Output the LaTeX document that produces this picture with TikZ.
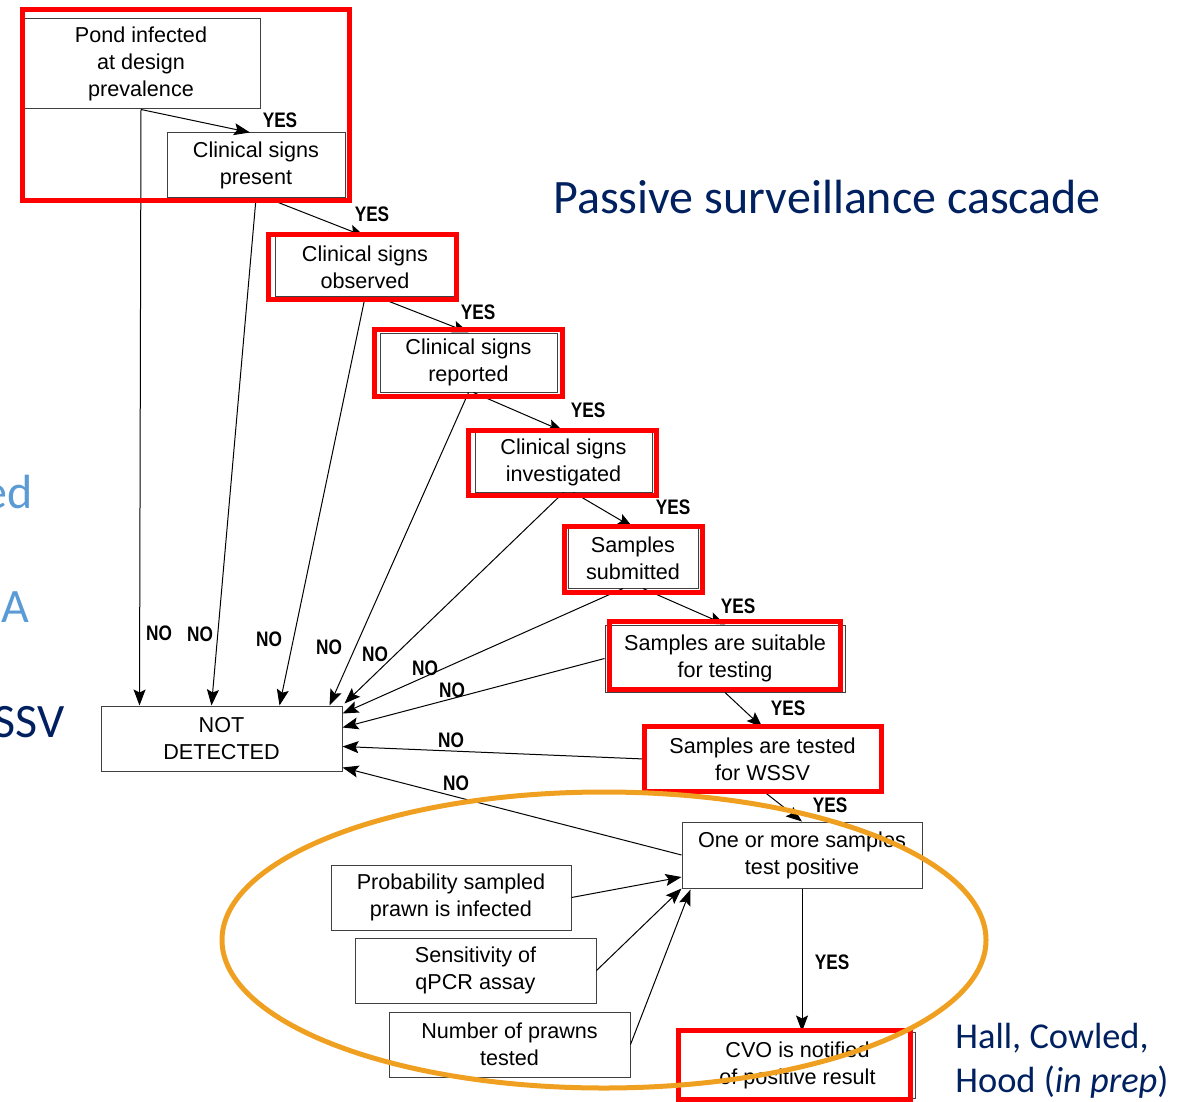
\documentclass[tikz,border=0pt]{standalone}
\usepackage{fontspec}
\setmainfont{Liberation Sans}
\newfontfamily\slidefont{Carlito}
\newfontfamily\tagfont[FakeStretch=0.82]{Liberation Sans}
\usetikzlibrary{arrows.meta,calc}
\definecolor{slidenavy}{RGB}{0,32,96}
\definecolor{slideblue}{RGB}{91,155,213}
\definecolor{markred}{RGB}{255,0,0}
\definecolor{markorange}{RGB}{240,160,32}

\begin{document}
\begin{tikzpicture}[x=0.5pt,y=-0.5pt,>={Stealth[length=8pt,width=6pt,inset=1.5pt]}]
  \tikzstyle{stage}=[draw=black!75,line width=0.5pt,inner sep=0pt,align=center,
    font=\fontsize{10.8}{13.5}\selectfont]
  \tikzstyle{tag}=[inner sep=0pt,font=\tagfont\bfseries\fontsize{10.5}{12}\selectfont]
  \tikzstyle{flow}=[->,line width=0.5pt]
  \tikzstyle{redmark}=[draw=markred,line width=2.5pt]
  \tikzstyle{slide}=[inner sep=0pt,font=\slidefont\fontsize{24}{28}\selectfont]

  \useasboundingbox (0,0) rectangle (1197,1101);
  \clip (0,0) rectangle (1197,1101);

  % cascade boxes
  \node[stage,minimum width=119pt,minimum height=45pt]     (pond)         at (141,64)      {Pond infected\\at design\\prevalence};
  \node[stage,minimum width=89pt,minimum height=32.5pt]    (present)      at (256,165.5)   {Clinical signs\\present};
  \node[stage,minimum width=90pt,minimum height=30pt]      (observed)     at (365,267)     {Clinical signs\\observed};
  \node[stage,minimum width=88.5pt,minimum height=29.5pt]  (reported)     at (468.5,362.5) {Clinical signs\\reported};
  \node[stage,minimum width=88.5pt,minimum height=30pt]    (investigated) at (563.5,462)   {Clinical signs\\investigated};
  \node[stage,minimum width=65pt,minimum height=30pt]      (submitted)    at (633,558)     {Samples\\submitted};
  \node[stage,minimum width=120pt,minimum height=33.5pt]   (suitable)     at (725,658.5)   {Samples are suitable\\for testing};
  \node[stage,minimum width=117.5pt,minimum height=31pt]   (tested)       at (762.5,759)   {Samples are tested\\for WSSV};
  \node[stage,minimum width=120pt,minimum height=33pt]     (positive)     at (802,855)     {One or more samples\\test positive};
  \node[stage,minimum width=117.5pt,minimum height=33pt]   (cvo)          at (797.5,1065)  {CVO is notified\\of positive result};
  \node[stage,minimum width=120.5pt,minimum height=32.5pt] (nd)           at (221.5,738.5) {NOT\\DETECTED};

  % inputs to the test
  \node[stage,minimum width=120pt,minimum height=32.5pt]   (prob)         at (451,897.5)   {Probability sampled\\prawn is infected};
  \node[stage,minimum width=120.5pt,minimum height=32.5pt] (sens)         at (475.5,970.5) {Sensitivity of\\qPCR assay};
  \node[stage,minimum width=120.5pt,minimum height=32.5pt] (number)       at (509.5,1044.5) {Number of prawns\\tested};

  % YES branch
  \path[flow]
  (pond.south)                     edge ($(present.north)+(-6,0)$)
  ($(present.south)+(12,0)$)       edge (observed.north)
  ($(observed.south)+(14,0)$)      edge (reported.north)
  ($(reported.south)+(5,0)$)       edge (investigated.north)
  ($(investigated.south)+(10,0)$)  edge (submitted.north)
  ($(submitted.south)+(10,0)$)     edge (suitable.north)
  (suitable.south)                 edge (tested.north)
  (tested.south)                   edge (positive.north)
  (positive.south)                 edge (positive.south |- cvo.north)
  ;

  % NO branch
  \path[flow]
  (pond.south)                     edge ($(nd.north west)+(39,0)$)
  (present.south)                  edge ($(nd.north west)+(111,0)$)
  (observed.south)                 edge ($(nd.north west)+(179,0)$)
  (reported.south)                 edge ($(nd.north west)+(229,0)$)
  (investigated.south)             edge ($(nd.north east)+(2,-2)$)
  ($(submitted.south)+(-10,0)$)    edge ($(nd.north east)+(0,8)$)
  (suitable.west)                  edge ($(nd.north east)+(0,22)$)
  (tested.west)                    edge ($(nd.north east)+(0,41)$)
  (positive.west)                  edge ($(nd.north east)+(0,62)$)
  ;

  % inputs
  \path[flow]
  (prob.east)                      edge ($(positive.west)+(0,22)$)
  (sens.east)                      edge (positive.south west)
  (number.east)                    edge ($(positive.south west)+(9,1)$)
  ;

  \node[tag] (yes1) at (280,120) {YES};
  \node[tag] (yes2) at (372,214) {YES};
  \node[tag] (yes3) at (478,312) {YES};
  \node[tag] (yes4) at (588,410) {YES};
  \node[tag] (yes5) at (673,507) {YES};
  \node[tag] (yes6) at (738,606) {YES};
  \node[tag] (yes7) at (788,708) {YES};
  \node[tag] (yes8) at (830,805) {YES};
  \node[tag] (yes9) at (832,962) {YES};

  \node[tag] (no1) at (159,633) {NO};
  \node[tag] (no2) at (200,634) {NO};
  \node[tag] (no3) at (269,639) {NO};
  \node[tag] (no4) at (329,647) {NO};
  \node[tag] (no5) at (375,654) {NO};
  \node[tag] (no6) at (425,668) {NO};
  \node[tag] (no7) at (452,690) {NO};
  \node[tag] (no8) at (451,740) {NO};
  \node[tag] (no9) at (456,783) {NO};

  % slide text
  \node[slide,anchor=base west,text=slidenavy] (title) at (553,214) {Passive surveillance cascade};
  \node[slide,anchor=base west,text=slidenavy,align=left,font=\slidefont\fontsize{18.2}{22}\selectfont]
    (cite) at (955,1092) {Hall, Cowled,\\Hood (\textit{in prep})};
  \node[slide,anchor=base east,text=slideblue] (frag1) at (33,508) {ed};
  \node[slide,anchor=base east,text=slideblue] (frag2) at (30,622) {A};
  \node[slide,anchor=base east,text=slidenavy] (frag3) at (65,737) {SSV};

  % highlights
  \draw[redmark] (22,10) rectangle (349,201);
  \draw[redmark] (268,235) rectangle (456,300);
  \draw[redmark] (374,329) rectangle (562,396);
  \draw[redmark] (468,430) rectangle (656,495);
  \draw[redmark] (564,526) rectangle (702,592);
  \draw[redmark] (609,621) rectangle (840,689);
  \draw[redmark] (644,726) rectangle (881,791);
  \draw[redmark] (678,1030) rectangle (910,1099);
  \draw[markorange,line width=2.5pt] (604,940) ellipse [x radius=382,y radius=148];
\end{tikzpicture}
\end{document}
